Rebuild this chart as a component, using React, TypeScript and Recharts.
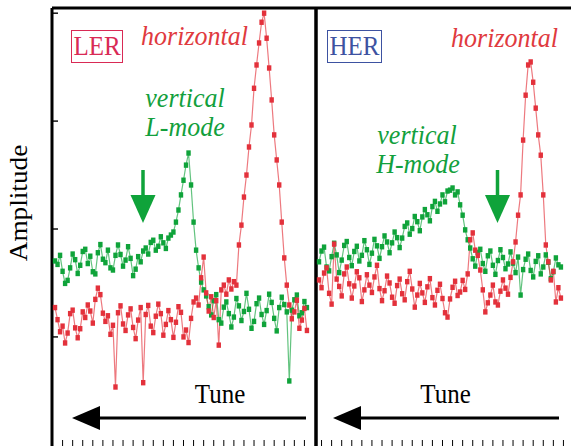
import React from 'react';
import { LineChart, Line, XAxis, YAxis } from 'recharts';

// amplitude along the tune sweep, one value per sample (left to right)
const lerVertical = [
  42.6, 41.8, 43.9, 40.2, 37.4, 38.1, 41.0, 44.2, 42.9, 39.7,
  41.6, 44.8, 45.3, 42.0, 43.7, 40.1, 39.6, 44.5, 46.4, 43.0,
  42.2, 45.1, 41.0, 40.5, 43.9, 46.3, 44.1, 41.4, 42.8, 45.9,
  43.2, 39.2, 40.7, 43.6, 42.4, 44.9, 45.6, 44.2, 46.9, 47.4,
  45.1, 46.0, 48.2, 46.8, 45.5, 47.9, 48.6, 49.3, 51.6, 54.4,
  57.9, 61.3, 64.8, 67.6, 60.2, 51.6, 45.1, 41.0, 37.7, 35.9,
  34.5, 32.0, 30.1, 33.4, 34.8, 29.0, 28.2, 31.9, 33.1, 30.4,
  27.3, 29.6, 33.9, 32.2, 28.8, 30.9, 35.1, 31.4, 27.0, 28.6,
  32.7, 34.0, 30.2, 27.9, 31.1, 34.9, 33.0, 29.3, 26.4, 31.8,
  34.2, 32.5, 30.8, 14.8, 31.2, 33.6, 34.7, 29.9, 30.6, 33.2,
  31.8,
];

const lerHorizontal = [
  31.8, 29.0, 26.2, 27.5, 23.6, 25.9, 30.4, 31.2, 27.1, 24.8,
  26.9, 30.8, 29.5, 32.4, 31.0, 28.2, 33.7, 36.3, 34.8, 30.5,
  28.6, 29.9, 25.6, 27.7, 13.4, 30.6, 32.2, 28.0, 26.5, 30.1,
  31.5, 27.2, 24.6, 28.9, 31.8, 14.4, 30.2, 32.3, 27.5, 26.0,
  29.8, 32.6, 30.4, 25.4, 27.9, 31.1, 29.0, 24.9, 28.4, 32.0,
  30.7, 25.0, 26.6, 23.7, 29.3, 33.1, 34.0, 32.4, 38.7, 43.5,
  35.2, 31.0, 34.3, 29.5, 33.4, 23.1, 35.9, 37.0, 34.9, 38.2,
  36.1, 37.8, 37.0, 46.3, 50.9, 57.4, 62.5, 69.0, 74.1, 82.6,
  88.0, 93.1, 97.9, 100.0, 94.2, 87.3, 79.9, 71.8, 66.0, 60.2,
  51.6, 43.3, 37.0, 32.4, 29.2, 30.8, 33.5, 27.0, 28.9, 31.6,
  26.5,
];

const herVertical = [
  42.4, 44.9, 45.8, 41.2, 40.3, 43.6, 46.7, 44.0, 39.9, 42.8,
  46.2, 47.1, 43.4, 41.5, 44.8, 46.0, 42.6, 43.9, 47.3, 45.2,
  41.8, 44.4, 47.6, 46.1, 43.2, 45.9, 48.4, 47.0, 44.5, 46.8,
  49.3, 48.0, 45.7, 47.9, 50.6, 51.4, 48.8, 50.1, 52.9, 51.7,
  49.6, 52.8, 54.5, 53.3, 51.9, 55.2, 56.4, 54.1, 55.8, 57.9,
  56.3, 58.8, 59.0, 59.5, 57.9, 58.6, 55.6, 53.2, 49.8, 47.5,
  45.6, 43.1, 41.4, 44.6, 45.3, 42.0, 40.2, 43.8, 44.9, 41.6,
  39.5, 42.7, 45.2, 43.4, 40.8, 41.9, 44.7, 42.1, 39.9, 43.5,
  34.7, 40.6, 43.0, 44.2, 40.4, 38.9, 42.5, 43.8, 39.6, 41.2,
  44.0, 42.3, 38.5, 40.1, 43.3, 41.7, 41.2,
];

const herHorizontal = [
  38.2, 36.4, 39.8, 41.0, 35.1, 32.6, 46.5, 38.4, 36.7, 34.5,
  39.6, 41.2, 37.3, 34.0, 36.8, 40.1, 38.7, 33.2, 35.9, 39.4,
  37.0, 35.3, 38.9, 41.6, 36.2, 33.4, 35.7, 39.1, 37.5, 34.2,
  32.8, 36.9, 38.4, 35.0, 33.6, 37.8, 40.2, 36.1, 31.9, 34.7,
  37.4, 35.2, 33.0, 36.6, 38.5, 34.1, 32.4, 35.8, 37.2, 33.9,
  30.6, 29.6, 33.8, 36.5, 37.9, 34.6, 35.4, 38.1, 36.0, 39.6,
  47.5, 49.1, 45.1, 43.9, 40.5, 35.9, 30.8, 32.9, 34.7, 37.0,
  33.1, 32.4, 35.6, 38.2, 36.3, 34.9, 38.8, 42.4, 47.0, 53.2,
  57.9, 70.6, 81.0, 88.0, 88.7, 84.0, 78.0, 71.8, 67.1, 57.9,
  46.3, 42.4, 38.2, 40.2, 33.1, 36.4, 34.0,
];

const lerTicks = [3, 7, 11, 15, 19, 23, 27, 31, 35, 39, 43, 47, 51, 55, 59, 63, 67, 71, 75, 79, 83, 87, 91, 95, 99];
const herTicks = [1, 5, 9, 13, 17, 21, 25, 29, 33, 37, 41, 45, 49, 53, 57, 61, 65, 69, 73, 77, 81, 85, 89, 93, 97];
const ampTicks = [25, 50, 75, 100];

const RED = '#e3313b';
const GREEN = '#0fa33a';
const SERIF = '"Liberation Serif", "Times New Roman", serif';
const AMP_DOMAIN: [number, number] = [-0.5, 101.2];

const lerRows = lerVertical.map((v, i) => ({ i, vertical: v, horizontal: lerHorizontal[i] }));
const herRows = herVertical.map((v, i) => ({ i, vertical: v, horizontal: herHorizontal[i] }));

const noLabel = () => <g />;

function square(color: string) {
  return (p: any) => (
    <rect key={`sq-${p.index}`} x={p.cx - 2.2} y={p.cy - 2.7} width={4.4} height={5.4} fill={color} />
  );
}

function traces() {
  return [
    <Line
      key="v"
      xAxisId="tune"
      yAxisId="amp"
      dataKey="vertical"
      type="linear"
      stroke={GREEN}
      strokeOpacity={0.65}
      strokeWidth={1.2}
      dot={square(GREEN)}
      activeDot={false}
      isAnimationActive={false}
    />,
    <Line
      key="h"
      xAxisId="tune"
      yAxisId="amp"
      dataKey="horizontal"
      type="linear"
      stroke={RED}
      strokeOpacity={0.65}
      strokeWidth={1.2}
      dot={square(RED)}
      activeDot={false}
      isAnimationActive={false}
    />,
  ];
}

// text in the source is slightly taller than wide
function Txt({ x, y, children, ...rest }: any) {
  return (
    <text transform={`translate(${x} ${y}) scale(1 1.09)`} fontFamily={SERIF} textAnchor="middle" {...rest}>
      {children}
    </text>
  );
}

export default function App() {
  const frame = { stroke: '#000', strokeWidth: 3 };
  const tickMark = { stroke: '#000', strokeWidth: 1.4 };

  return (
    <div style={{ position: 'fixed', left: 0, top: 0, width: 571, height: 446, overflow: 'hidden', background: '#fff' }}>
      <div style={{ position: 'absolute', left: 0, top: 0 }}>
        <LineChart width={320} height={450} data={lerRows} margin={{ top: 8, right: 4, bottom: 3, left: 52 }}>
          <XAxis
            xAxisId="tune"
            type="number"
            dataKey="i"
            domain={[-1.2, 103.6]}
            ticks={lerTicks}
            interval={0}
            height={1}
            mirror
            axisLine={false}
            tickSize={7}
            tickLine={{ stroke: '#000', strokeWidth: 1 }}
            tick={noLabel}
            allowDataOverflow
          />
          <XAxis
            xAxisId="top"
            orientation="top"
            type="number"
            dataKey="i"
            domain={[-1.2, 103.6]}
            height={1}
            mirror
            axisLine={frame}
            tickLine={false}
            tick={false}
          />
          <YAxis
            yAxisId="amp"
            type="number"
            domain={AMP_DOMAIN}
            ticks={ampTicks}
            interval={0}
            width={1}
            mirror
            axisLine={frame}
            tickSize={6}
            tickLine={tickMark}
            tick={noLabel}
            allowDataOverflow
          />
          <YAxis
            yAxisId="edge"
            orientation="right"
            type="number"
            domain={AMP_DOMAIN}
            ticks={ampTicks}
            interval={0}
            width={1}
            mirror
            axisLine={frame}
            tickSize={5}
            tickLine={tickMark}
            tick={noLabel}
          />
          {traces()}
        </LineChart>
      </div>

      <div style={{ position: 'absolute', left: 300, top: 0 }}>
        <LineChart width={290} height={450} data={herRows} margin={{ top: 8, right: 18, bottom: 3, left: 16 }}>
          <XAxis
            xAxisId="tune"
            type="number"
            dataKey="i"
            domain={[-1.2, 100.4]}
            ticks={herTicks}
            interval={0}
            height={1}
            mirror
            axisLine={false}
            tickSize={7}
            tickLine={{ stroke: '#000', strokeWidth: 1 }}
            tick={noLabel}
            allowDataOverflow
          />
          <XAxis
            xAxisId="top"
            orientation="top"
            type="number"
            dataKey="i"
            domain={[-1.2, 100.4]}
            height={1}
            mirror
            axisLine={frame}
            tickLine={false}
            tick={false}
          />
          <YAxis
            yAxisId="amp"
            type="number"
            domain={AMP_DOMAIN}
            width={1}
            mirror
            axisLine={frame}
            tickLine={false}
            tick={false}
            allowDataOverflow
          />
          {traces()}
        </LineChart>
      </div>

      <svg width={571} height={446} style={{ position: 'absolute', left: 0, top: 0 }}>
        <Txt x={27} y={203} fontSize={25} transform="translate(27 203) scale(1 1.09) rotate(-90)">
          Amplitude
        </Txt>

        <rect x={71.5} y={30.5} width={51} height={32} fill="none" stroke="#d92a55" strokeWidth={1} />
        <Txt x={97} y={55} fontSize={25} fill="#d92a55">LER</Txt>
        <rect x={327.5} y={30.5} width={54} height={32} fill="none" stroke="#3d52a1" strokeWidth={1} />
        <Txt x={354.5} y={55} fontSize={25} fill="#3d52a1">HER</Txt>

        <Txt x={194.5} y={45} fontSize={26} fontStyle="italic" fill="#e03a3e">horizontal</Txt>
        <Txt x={504.5} y={47} fontSize={26} fontStyle="italic" fill="#e03a3e">horizontal</Txt>
        <Txt x={185} y={107} fontSize={26} fontStyle="italic" fill="#12a03c">vertical</Txt>
        <Txt x={185} y={136} fontSize={26} fontStyle="italic" fill="#12a03c">L-mode</Txt>
        <Txt x={417} y={144} fontSize={26} fontStyle="italic" fill="#12a03c">vertical</Txt>
        <Txt x={418} y={173} fontSize={26} fontStyle="italic" fill="#12a03c">H-mode</Txt>

        <line x1={143} y1={170} x2={143} y2={197} stroke={GREEN} strokeWidth={3.5} />
        <polygon points="130.5,195 155.5,195 143,223" fill={GREEN} />
        <line x1={497.5} y1={170} x2={497.5} y2={197} stroke={GREEN} strokeWidth={3.5} />
        <polygon points="485,195 510,195 497.5,223" fill={GREEN} />

        <Txt x={220} y={403} fontSize={25} fill="#000">Tune</Txt>
        <Txt x={445.5} y={403} fontSize={25} fill="#000">Tune</Txt>
        <line x1={98} y1={418} x2={306} y2={418} stroke="#000" strokeWidth={3} />
        <polygon points="72,418 100,406 100,430" fill="#000" />
        <line x1={359} y1={418} x2={559} y2={418} stroke="#000" strokeWidth={3} />
        <polygon points="333,418 361,406 361,430" fill="#000" />
      </svg>
    </div>
  );
}
